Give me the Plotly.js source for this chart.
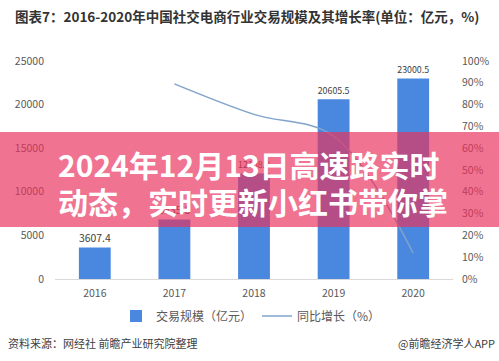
<!DOCTYPE html>
<html>
<head>
<meta charset="utf-8">
<script src="https://cdn.plot.ly/plotly-3.0.1.min.js"></script>
<style>html,body{margin:0;padding:0;background:#fff;}#chart{width:499px;height:361px;}</style>
</head>
<body>
<div id="chart"></div>
<script>
const years = ['2016', '2017', '2018', '2019', '2020'];
const tradeScale = [3607.4, 6835.8, 12108.8, 20605.5, 23000.5];
const growthYears = ['2017', '2018', '2019', '2020'];
const growthRate = [0.895, 0.755, 0.655, 0.118];
const leftTicks = [0, 5000, 10000, 15000, 20000, 25000];
const rightTicks = [0, 0.1, 0.2, 0.3, 0.4, 0.5, 0.6, 0.7, 0.8, 0.9, 1.0];
const titleText = '图表7：2016-2020年中国社交电商行业交易规模及其增长率(单位：亿元，%)';
const bannerLines = ['2024年12月13日高速路实时', '动态，实时更新小红书带你掌'];
const sourceText = '资料来源：网经社 前瞻产业研究院整理';
const brandText = '@前瞻经济学人APP';

const W = 499, H = 361, L = 55, R = 46, T = 61, B = 82;
const pw = W - L - R, ph = H - T - B;
const px = x => (x - L) / pw;
const py = y => (H - B - y) / ph;
const FONT = '"Noto Sans CJK SC", "Noto Sans", sans-serif';

const traces = [
  {
    type: 'bar', x: years, y: tradeScale, name: '交易规模（亿元）',
    marker: {color: 'rgb(74,136,224)'}, width: 0.4,
    texttemplate: '%{y:.1f}', textposition: 'outside', cliponaxis: false,
    textfont: {family: FONT, size: 11, color: '#404040'},
    hoverinfo: 'skip'
  },
  {
    type: 'scatter', mode: 'lines', x: growthYears, y: growthRate, yaxis: 'y2',
    name: '同比增长（%）', line: {color: 'rgb(128,163,204)', width: 1.5, shape: 'spline', smoothing: 1},
    hoverinfo: 'skip'
  }
];

const layout = {
  width: W, height: H,
  margin: {l: L, r: R, t: T, b: B},
  paper_bgcolor: '#ffffff', plot_bgcolor: '#ffffff',
  font: {family: FONT, size: 10.5, color: '#595959'},
  title: {
    text: titleText, x: 15 / W, xanchor: 'left', xref: 'container',
    y: 1 - 17 / H, yanchor: 'middle', yref: 'container',
    font: {family: FONT, size: 13.5, color: '#333333', weight: 'bold'}
  },
  bargap: 0.6,
  xaxis: {
    type: 'category', showgrid: false, zeroline: false,
    showline: true, linecolor: '#d9d9d9', linewidth: 1,
    ticks: '', tickfont: {family: FONT, size: 10.5, color: '#595959'},
    ticklabelstandoff: 4
  },
  yaxis: {
    range: [0, 25000], tickvals: leftTicks, showgrid: false, zeroline: false,
    showline: false, ticks: '', tickformat: 'd',
    tickfont: {family: FONT, size: 10.5, color: '#595959'}, ticklabelstandoff: 10
  },
  yaxis2: {
    overlaying: 'y', side: 'right', range: [0, 1], tickvals: rightTicks,
    tickformat: '.0%', showgrid: false, zeroline: false, showline: false, ticks: '',
    tickfont: {family: FONT, size: 10.5, color: '#595959'}, ticklabelstandoff: 8
  },
  showlegend: true,
  legend: {
    orientation: 'h', x: px(251), xanchor: 'center', y: py(316), yanchor: 'middle',
    font: {family: FONT, size: 12, color: '#595959'}, itemwidth: 30, tracegroupgap: 0
  },
  shapes: [
    {type: 'rect', xref: 'paper', yref: 'paper', x0: px(0), x1: px(W), y0: py(227), y1: py(132),
     fillcolor: 'rgba(233,49,93,0.68)', line: {width: 0}, layer: 'above'}
  ],
  annotations: [
    {text: bannerLines[0], xref: 'paper', yref: 'paper', x: px(56), y: py(164), xanchor: 'left', yanchor: 'middle',
     showarrow: false, font: {family: FONT, size: 30, color: '#ffffff', weight: 'bold'}},
    {text: bannerLines[1], xref: 'paper', yref: 'paper', x: px(56), y: py(201), xanchor: 'left', yanchor: 'middle',
     showarrow: false, font: {family: FONT, size: 30, color: '#ffffff', weight: 'bold'}},
    {text: sourceText, xref: 'paper', yref: 'paper', x: px(6), y: py(343), xanchor: 'left', yanchor: 'middle',
     showarrow: false, font: {family: FONT, size: 11, color: '#404040'}},
    {text: brandText, xref: 'paper', yref: 'paper', x: px(497), y: py(343), xanchor: 'right', yanchor: 'middle',
     showarrow: false, font: {family: FONT, size: 11, color: '#404040'}}
  ]
};

Plotly.newPlot('chart', traces, layout, {displayModeBar: false, staticPlot: true});
</script>
</body>
</html>
